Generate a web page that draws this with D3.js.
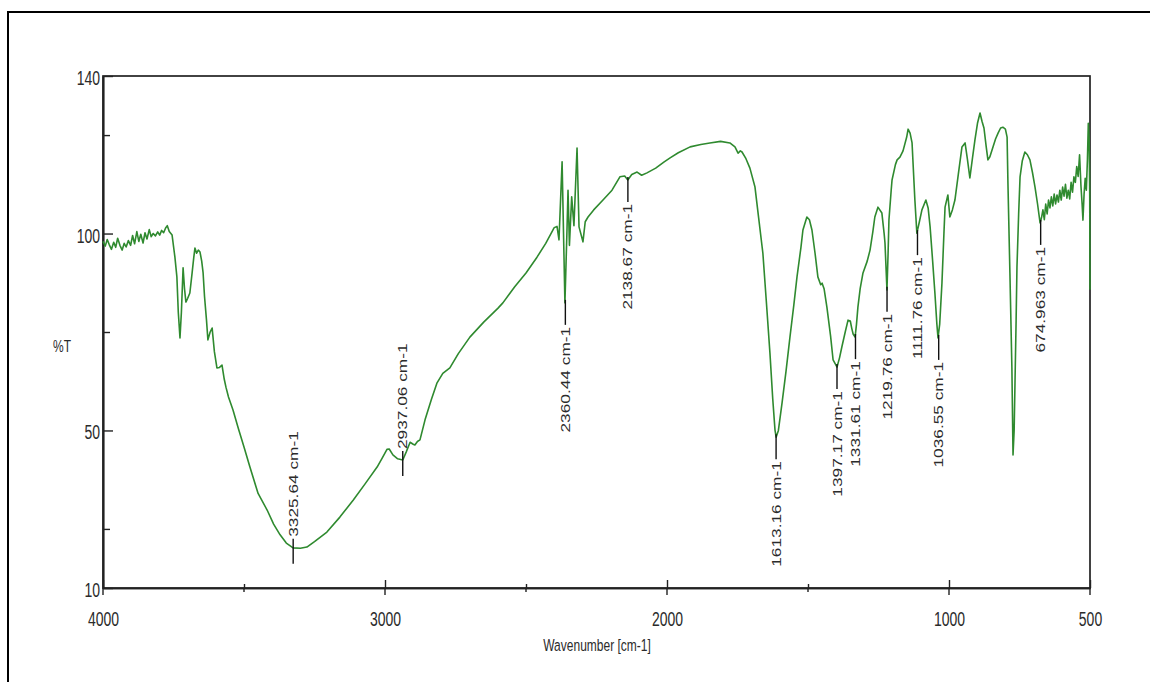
<!DOCTYPE html>
<html>
<head>
<meta charset="utf-8">
<script src="https://cdn.jsdelivr.net/npm/d3@7"></script>
<style>
    body { margin: 0; background: #fff; }
    svg { display: block; font-family: Arial, "Liberation Sans", sans-serif; }
</style>
</head>
<body>
<svg width="1150" height="682"></svg>
<script>
// Spectrum: wavenumber (cm-1) and transmittance (%T)
var wavenumber = [
    4000, 3992, 3985, 3978, 3970, 3962, 3955, 3948, 3940, 3932,
    3925, 3918, 3910, 3902, 3895, 3888, 3880, 3873, 3866, 3858,
    3851, 3844, 3836, 3829, 3822, 3814, 3806, 3799, 3792, 3785,
    3778, 3772, 3765, 3755, 3745, 3738, 3733, 3727, 3722, 3716,
    3711, 3706, 3700, 3692, 3684, 3678, 3674, 3668, 3662, 3656,
    3650, 3645, 3640, 3633, 3628, 3620, 3613, 3605, 3596, 3587,
    3578, 3570, 3564, 3555, 3539, 3520, 3500, 3479, 3450, 3418,
    3395, 3372, 3350, 3326, 3300, 3277, 3250, 3206, 3160, 3113,
    3070, 3028, 3010, 2993, 2985, 2972, 2955, 2937, 2925, 2911,
    2900, 2894, 2885, 2876, 2858, 2835, 2816, 2795, 2770, 2740,
    2699, 2650, 2600, 2582, 2540, 2500, 2461, 2430, 2400, 2390,
    2383, 2372, 2362, 2355, 2351, 2346, 2338, 2330, 2319, 2312,
    2298, 2290, 2280, 2260, 2227, 2195, 2167, 2150, 2139, 2125,
    2106, 2090, 2071, 2040, 2010, 1989, 1960, 1918, 1880, 1848,
    1810, 1777, 1759, 1748, 1740, 1734, 1720, 1706, 1688, 1675,
    1660, 1648, 1635, 1625, 1617, 1613, 1605, 1592, 1578, 1564,
    1550, 1539, 1525, 1518, 1504, 1495, 1486, 1475, 1465, 1455,
    1450, 1443, 1433, 1420, 1411, 1397, 1388, 1380, 1368, 1358,
    1350, 1345, 1340, 1333, 1328, 1323, 1315, 1305, 1290, 1280,
    1270, 1263, 1252, 1238, 1230, 1227, 1220, 1216, 1213, 1205,
    1202, 1190, 1184, 1174, 1163, 1150, 1145, 1138, 1131, 1121,
    1114, 1105, 1096, 1082, 1074, 1067, 1058, 1050, 1043, 1039,
    1033, 1025, 1018, 1014, 1004, 997, 988, 979, 967, 954,
    943, 935, 926, 917, 908, 899, 890, 883, 876, 868,
    862, 855, 844, 835, 826, 817, 809, 800, 794, 791,
    784, 777, 773, 769, 766, 762, 759, 753, 748, 740,
    731, 722, 713, 704, 695, 686, 677, 672, 667, 662,
    657, 652, 647, 642, 637, 632, 627, 622, 617, 612,
    607, 602, 597, 592, 587, 582, 577, 572, 567, 562,
    557, 552, 547, 542, 537, 532, 528, 525, 521, 517,
    513, 509, 506, 503, 501, 500
];
var transmittance = [
    98.0, 96.8, 98.5, 97.2, 96.0, 97.8, 96.5, 98.8, 97.0, 95.8,
    97.5, 96.6, 98.2, 97.0, 99.5, 97.4, 100.5, 98.0, 99.8, 97.6,
    100.2, 98.6, 101.0, 99.2, 100.0, 99.4, 100.4, 99.6, 100.8, 100.2,
    101.4, 102.0, 100.5, 99.6, 94, 89, 80, 73.5, 80, 91.3,
    86, 82.6, 83.5, 84.9, 90, 94, 96.3, 95, 95.8, 95.3,
    93, 90, 84, 78, 73, 75, 76, 70, 65.9, 66,
    66.6, 63, 61, 58.5, 55.2, 50.5, 45.8, 40.7, 34, 29.8,
    26.2, 23.5, 21.4, 20.2, 20.1, 20.4, 21.8, 24.2, 28, 32.3,
    36.5, 40.7, 43, 45.2, 45.3, 43.8, 42.8, 42.5, 44.5, 47,
    46.5, 46.3, 47.2, 47.6, 52.7, 58, 62, 64.5, 65.9, 69.5,
    73.7, 77.5, 81, 82.4, 86.5, 90, 94, 97.5, 101.5, 101.8,
    98.4, 118.2, 82.4, 100, 111, 97, 109.3, 102, 121.7, 101.7,
    97.9, 103, 104.2, 106, 108.5, 111, 114.4, 114.6, 113.6, 115,
    115.6, 114.8, 115.4, 116.6, 118.2, 119.2, 120.5, 122, 122.6, 123,
    123.4, 123, 122, 120.4, 121, 120.7, 119, 116.6, 111.8, 104,
    95, 83, 69.7, 58, 50.1, 48.3, 50, 57, 65, 73.7,
    82, 89, 96.5, 100.9, 104.2, 103.5, 100.9, 95, 89, 87,
    87.4, 86, 81.3, 74, 67.9, 66.1, 68.5, 71.2, 75, 78,
    77.8, 76, 74.5, 73.7, 77, 81.3, 86, 90, 93, 95.8,
    100.5, 104.2, 106.7, 105.2, 100, 97.6, 85.7, 95, 103.4, 111,
    113.6, 117.5, 118.7, 119.4, 121, 124.5, 126.5, 125.5, 123, 108.5,
    100.1, 103, 106, 108.5, 106.5, 101.7, 93, 84.9, 77, 73.5,
    77, 87.4, 100, 106.7, 109.8, 104.2, 106, 108.5, 115, 122,
    123, 119, 114.1, 119, 123.8, 128, 130.6, 128.5, 126.8, 122,
    118.7, 119.5, 122, 124, 125.5, 126.8, 127, 126.5, 124.5, 112.8,
    90, 66, 43.8, 50, 62, 78, 91.5, 105, 114.4, 118.5,
    120.7, 120, 118.7, 115.5, 111.8, 107.5, 102.7, 104, 106, 103.5,
    107.5, 105, 108.5, 106.5, 109.3, 107, 110, 107.5, 109.8, 108,
    111, 108.5, 111.8, 109.5, 112.5, 109, 111, 108.8, 113, 110.5,
    114.4, 113, 117, 114.5, 120, 112, 107.5, 103.4, 110, 114,
    111, 119, 128, 124, 110, 85.7
];

// Peak picks printed on the spectrum
var peakWn = [3325.64, 2937.06, 2360.44, 2138.67, 1613.16, 1397.17, 1331.61, 1219.76, 1111.76, 1036.55, 674.963];
var peakT = [20.2, 42.5, 82.4, 113.6, 48.3, 66.1, 73.7, 85.7, 100.1, 73.5, 102.7];
var peakLabels = ['3325.64 cm-1', '2937.06 cm-1', '2360.44 cm-1', '2138.67 cm-1', '1613.16 cm-1',
    '1397.17 cm-1', '1331.61 cm-1', '1219.76 cm-1', '1111.76 cm-1', '1036.55 cm-1', '674.963 cm-1'];
var peakAbove = [true, true, false, false, false, false, false, false, false, false, false];

// Axis ticks
var xTicks = [4000, 3000, 2000, 1000, 500];
var xMinorTicks = [3500, 2500, 1500];
var yTicks = [140, 100, 50, 10];
var yMinorTicks = [125, 75, 25];

var svg = d3.select('svg');

// Plot box inside the page
var plot = {l: 103, r: 1090, t: 76, b: 588};

// the original picture is stretched vertically, so text is too
var stretch = 1.45;
var labelStretch = 1.33;

var x = d3.scaleLinear().domain([4000, 500]).range([plot.l, plot.r]);
var y = d3.scaleLinear().domain([10, 140]).range([plot.b, plot.t]);

// Outer frame (runs off the right and bottom of the page)
svg.append('rect')
    .attr('x', 8).attr('y', 12)
    .attr('width', 1300).attr('height', 1000)
    .attr('fill', 'none')
    .attr('stroke', '#000')
    .attr('stroke-width', 2);

// Plot box
svg.append('rect')
    .attr('x', plot.l).attr('y', plot.t)
    .attr('width', plot.r - plot.l).attr('height', plot.b - plot.t)
    .attr('fill', 'none')
    .attr('stroke', '#222')
    .attr('stroke-width', 1.7);

// Y axis, ticks point inward
var yAxisG = svg.append('g')
    .attr('transform', 'translate(' + plot.l + ',0)')
    .call(d3.axisLeft(y).tickValues(yTicks).tickSizeInner(-10).tickSizeOuter(0).tickPadding(3));
svg.append('g')
    .attr('transform', 'translate(' + plot.l + ',0)')
    .call(d3.axisLeft(y).tickValues(yMinorTicks).tickSizeInner(-7).tickSizeOuter(0).tickFormat(''));

// X axis
var xAxisG = svg.append('g')
    .attr('transform', 'translate(0,' + plot.b + ')')
    .call(d3.axisBottom(x).tickValues(xTicks).tickSizeInner(-8).tickSizeOuter(0).tickFormat(d3.format('d')));
svg.append('g')
    .attr('transform', 'translate(0,' + plot.b + ')')
    .call(d3.axisBottom(x).tickValues(xMinorTicks).tickSizeInner(-4).tickSizeOuter(0).tickFormat(''));

// short stubs below the axis line on the ticks
svg.append('g').selectAll('line')
    .data(xTicks.concat(xMinorTicks))
    .join('line')
    .attr('x1', function(d) { return x(d); })
    .attr('x2', function(d) { return x(d); })
    .attr('y1', plot.b)
    .attr('y2', function(d) { return plot.b + (xTicks.indexOf(d) >= 0 ? 7 : 4); })
    .attr('stroke', '#222')
    .attr('stroke-width', 1.4);

svg.selectAll('.domain').attr('stroke', '#222').attr('stroke-width', 1.7);
svg.selectAll('.tick line').attr('stroke', '#222').attr('stroke-width', 1.4);

yAxisG.selectAll('text')
    .attr('font-size', 14)
    .attr('fill', '#2b2b2b')
    .attr('dy', '0.42em')
    .attr('transform', 'scale(1,' + stretch + ')');

xAxisG.selectAll('text')
    .attr('font-size', 14)
    .attr('fill', '#2b2b2b')
    .attr('y', 0)
    .attr('dy', '0.36em')
    .attr('transform', 'translate(0,31) scale(1,' + stretch + ')');

// Axis titles
svg.append('text')
    .attr('transform', 'translate(597,645) scale(1,' + stretch + ')')
    .attr('text-anchor', 'middle')
    .attr('dy', '0.35em')
    .attr('font-size', 12)
    .attr('fill', '#2b2b2b')
    .text('Wavenumber [cm-1]');

svg.append('text')
    .attr('transform', 'translate(62,346) scale(1,' + stretch + ')')
    .attr('text-anchor', 'middle')
    .attr('dy', '0.35em')
    .attr('font-size', 12)
    .attr('fill', '#2b2b2b')
    .text('%T');

// Spectrum line
var spectrum = wavenumber.map(function(d, i) { return [d, transmittance[i]]; });

var line = d3.line()
    .x(function(d) { return x(d[0]); })
    .y(function(d) { return y(d[1]); });

svg.append('path')
    .datum(spectrum)
    .attr('d', line)
    .attr('fill', 'none')
    .attr('stroke', '#2f8a2f')
    .attr('stroke-width', 1.6)
    .attr('stroke-linejoin', 'round');

// Peak picks: short marker plus rotated label
var peaks = svg.append('g')
    .selectAll('g')
    .data(peakWn)
    .join('g');

peaks.append('line')
    .attr('x1', function(d) { return x(d); })
    .attr('x2', function(d) { return x(d); })
    .attr('y1', function(d, i) { return y(peakT[i]) + (peakAbove[i] ? -9 : -3); })
    .attr('y2', function(d, i) { return y(peakT[i]) + (peakAbove[i] ? 16 : 22); })
    .attr('stroke', '#111')
    .attr('stroke-width', 1.4);

peaks.append('text')
    .attr('transform', function(d, i) {
        var ty = y(peakT[i]) + (peakAbove[i] ? -11 : 24);
        return 'translate(' + x(d) + ',' + ty + ') rotate(-90) scale(' + labelStretch + ',1)';
    })
    .attr('text-anchor', function(d, i) { return peakAbove[i] ? 'start' : 'end'; })
    .attr('dy', '0.35em')
    .attr('font-size', 13)
    .attr('fill', '#2b2b2b')
    .text(function(d, i) { return peakLabels[i]; });
</script>
</body>
</html>
